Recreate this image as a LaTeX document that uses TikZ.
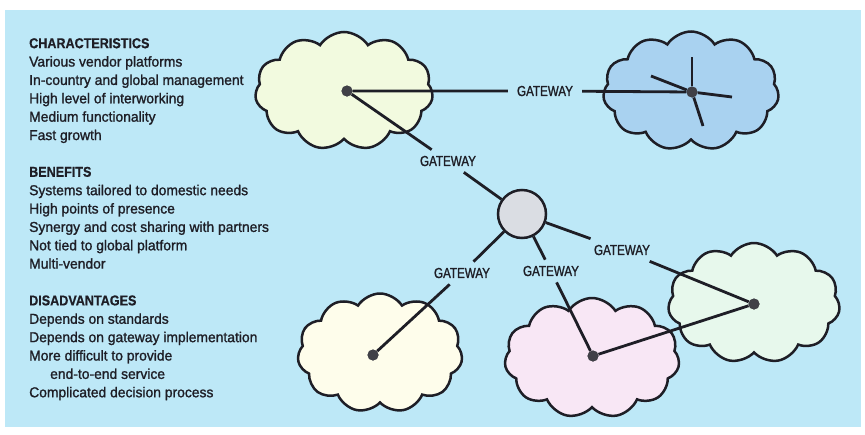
\documentclass[tikz,border=0pt]{standalone}
\usepackage{fontspec}
\setmainfont{Liberation Sans}
\newfontfamily\bodyfont[FakeBold=1.3,FakeStretch=0.97]{Liberation Sans}
\newfontfamily\headfont[FakeStretch=0.88,FakeBold=0.6]{Liberation Sans}
\newfontfamily\gwfont[FakeStretch=0.8,FakeBold=1.3]{Liberation Sans}
\usetikzlibrary{shapes.symbols}

\definecolor{panel}{HTML}{BDE8F7}
\definecolor{ink}{HTML}{1E1E26}
\definecolor{cloudA}{HTML}{F2FADF}
\definecolor{cloudB}{HTML}{A9D2F0}
\definecolor{cloudC}{HTML}{FEFDEB}
\definecolor{cloudD}{HTML}{F8E7F5}
\definecolor{cloudE}{HTML}{E7F8EC}
\definecolor{hubgray}{HTML}{DADDE3}

\tikzset{
  netcloud/.style={cloud, cloud puffs=11, cloud puff arc=115, aspect=1.5,
    draw=ink, line width=2.5pt, inner sep=0pt},
  hubnode/.style={circle, draw=ink, line width=2.5pt, fill=hubgray,
    minimum size=48pt, inner sep=0pt},
  netdot/.style={circle, fill=ink!85, minimum size=11pt, inner sep=0pt},
  gwlabel/.style={font=\gwfont\fontsize{14.5}{15}\selectfont, text=ink,
    inner xsep=9pt, inner ysep=6pt},
  link/.style={draw=ink, line width=2.8pt},
  listtext/.style={anchor=north west, align=left, inner sep=0pt, text=ink,
    font=\bodyfont\fontsize{14.3}{18.37}\selectfont},
}

\begin{document}
\begin{tikzpicture}[x=1pt, y=-1pt]
  \useasboundingbox (0,0) rectangle (865,434);
  \fill[white] (0,0) rectangle (865,434);
  \fill[panel] (5,10) rectangle (861,427);

  % networks
  \node[netcloud, fill=cloudA, minimum width=178pt, minimum height=118pt] (c1) at (344,91) {};
  \node[netcloud, fill=cloudB, minimum width=176pt, minimum height=119pt] (c2) at (691,91) {};
  \node[netcloud, fill=cloudC, minimum width=165pt, minimum height=119pt] (c3) at (380,353) {};
  \node[netcloud, fill=cloudD, minimum width=175pt, minimum height=120pt] (c4) at (592,358) {};
  \node[netcloud, fill=cloudE, minimum width=172pt, minimum height=120pt] (c5) at (754,303) {};

  % central exchange
  \node[hubnode] (hub) at (522,214) {};

  % network access points
  \node[netdot] (d1) at (347,91) {};
  \node[netdot] (d2) at (692,92) {};
  \node[netdot] (d3) at (373,355) {};
  \node[netdot] (d4) at (593,356) {};
  \node[netdot] (d5) at (754,304) {};

  % gateways
  \node[gwlabel] (g1) at (545,91) {GATEWAY};
  \node[gwlabel] (g2) at (448,161) {GATEWAY};
  \node[gwlabel] (g3) at (462,273) {GATEWAY};
  \node[gwlabel] (g4) at (551,271) {GATEWAY};
  \node[gwlabel] (g5) at (622,250) {GATEWAY};

  % local links inside the blue network
  \coordinate (s1) at (692,57);
  \coordinate (s2) at (651,76);
  \coordinate (s3) at (732,97);
  \coordinate (s4) at (703,126);

  \path[link] (d1) -- (g1) -- (d2);
  \path[link] (d1) -- (g2) -- (hub);
  \path[link] (hub) -- (g3) -- (d3);
  \path[link] (hub) -- (g4) -- (d4);
  \path[link] (hub) -- (g5) -- (d5);
  \path[link] (d4) -- (d5);
  \path[link] (d2) -- (s1);
  \path[link] (d2) -- (s2);
  \path[link] (d2) -- (s3);
  \path[link] (d2) -- (s4);

  % redraw dots above the links
  \foreach \d in {d1,d2,d3,d4,d5}
    \fill[ink!85] (\d) circle (5.5pt);

  % lists
  \node[listtext] (chars) at (29,38) {%
    {\headfont\bfseries CHARACTERISTICS}\\
    Various vendor platforms\\
    In-country and global management\\
    High level of interworking\\
    Medium functionality\\
    Fast growth};
  \node[listtext] (bens) at (29,166.6) {%
    {\headfont\bfseries BENEFITS}\\
    Systems tailored to domestic needs\\
    High points of presence\\
    Synergy and cost sharing with partners\\
    Not tied to global platform\\
    Multi-vendor};
  \node[listtext] (disadv) at (29,295.2) {%
    {\headfont\bfseries DISADVANTAGES}\\
    Depends on standards\\
    Depends on gateway implementation\\
    More difficult to provide\\
    \hspace*{21pt}end-to-end service\\
    Complicated decision process};
\end{tikzpicture}
\end{document}
